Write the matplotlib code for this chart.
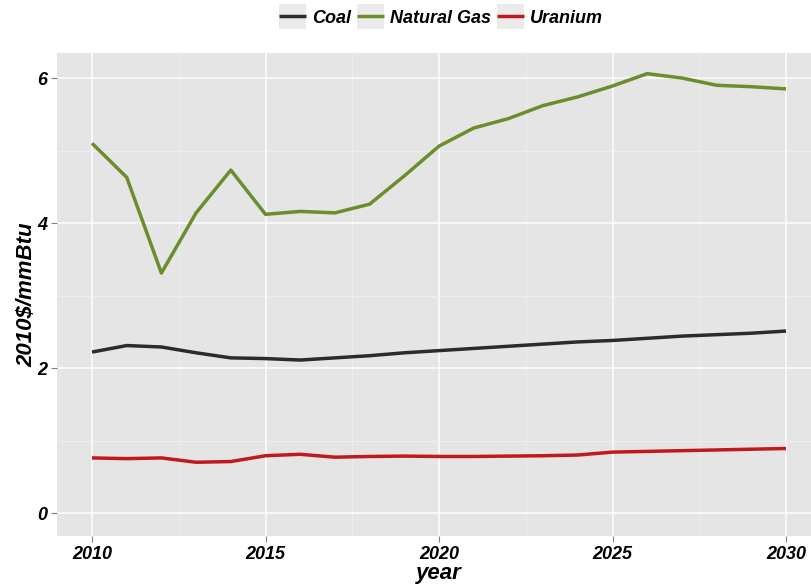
import matplotlib.pyplot as plt
from matplotlib.legend_handler import HandlerLine2D
from matplotlib.patches import Rectangle
import numpy as np

years = list(range(2010, 2031))
coal = [2.22, 2.31, 2.29, 2.21, 2.14, 2.13, 2.11, 2.14, 2.17, 2.21, 2.24,
        2.27, 2.30, 2.33, 2.36, 2.38, 2.41, 2.44, 2.46, 2.48, 2.51]
natural_gas = [5.10, 4.63, 3.31, 4.14, 4.73, 4.12, 4.16, 4.14, 4.26, 4.65, 5.06,
               5.31, 5.44, 5.62, 5.74, 5.89, 6.06, 6.00, 5.90, 5.88, 5.85]
uranium = [0.76, 0.75, 0.76, 0.70, 0.71, 0.79, 0.81, 0.77, 0.78, 0.785, 0.78,
           0.78, 0.785, 0.79, 0.80, 0.84, 0.85, 0.86, 0.87, 0.88, 0.89]

series = {"Coal": (coal, "#2b2b2b"),
          "Natural Gas": (natural_gas, "#6a8e2c"),
          "Uranium": (uranium, "#c01a1f")}

FONT = ["Liberation Sans Narrow", "Liberation Sans", "DejaVu Sans"]
plt.rcParams["font.family"] = FONT


class KeyHandler(HandlerLine2D):
    # ggplot-style legend key: line on a grey square
    def create_artists(self, legend, orig_handle, xdescent, ydescent,
                       width, height, fontsize, trans):
        bg = Rectangle((-xdescent, -ydescent - 0.35 * height), width, height * 1.7,
                       facecolor="#ebebeb", edgecolor="none", transform=trans)
        arts = super().create_artists(legend, orig_handle, xdescent, ydescent,
                                      width, height, fontsize, trans)
        return [bg] + arts


fig = plt.figure(figsize=(8.12, 5.88), dpi=100)
W, H = 812, 588
ax = fig.add_axes([57.3 / W, (H - 536) / H, (820.7 - 57.3) / W, (536 - 53) / H])
ax.set_facecolor("#e5e5e5")

handles = []
for name, (vals, col) in series.items():
    h, = ax.plot(years, vals, color=col, lw=2.5, label=name, solid_capstyle="butt")
    handles.append(h)

ax.set_xlim(2009, 2031)
ax.set_ylim(-0.317, 6.345)
ax.set_xticks([2010, 2015, 2020, 2025, 2030])
ax.set_xticks([2012.5, 2017.5, 2022.5, 2027.5], minor=True)
ax.set_yticks([0, 2, 4, 6])
ax.set_yticks([1, 3, 5], minor=True)
ax.grid(True, which="major", color="white", lw=1.1)
ax.grid(True, which="minor", color="#f0f0f0", lw=0.6)
ax.set_axisbelow(True)
for s in ax.spines.values():
    s.set_visible(False)
ax.tick_params(which="major", length=4, color="#7f7f7f", width=0.8, pad=3)
ax.tick_params(which="minor", length=0)
for lab in ax.get_xticklabels() + ax.get_yticklabels():
    lab.set_fontsize(13)
    lab.set_fontweight("bold")
    lab.set_fontstyle("italic")
    lab.set_color("black")

ax.set_xlabel("year", fontsize=16, fontweight="bold", fontstyle="italic", labelpad=0)
ax.set_ylabel("2010\\$/mmBtu", fontsize=16, fontweight="bold", fontstyle="italic", labelpad=0)

fig.legend(handles=handles, loc="center", bbox_to_anchor=(441 / W, 1 - 18 / H),
           ncol=3, frameon=False, handlelength=1.5, handleheight=0.9,
           handletextpad=0.35, columnspacing=0.3,
           prop={"family": FONT, "weight": "bold", "style": "italic", "size": 13},
           handler_map={h: KeyHandler() for h in handles})

fig.savefig("out.png", dpi=100)
